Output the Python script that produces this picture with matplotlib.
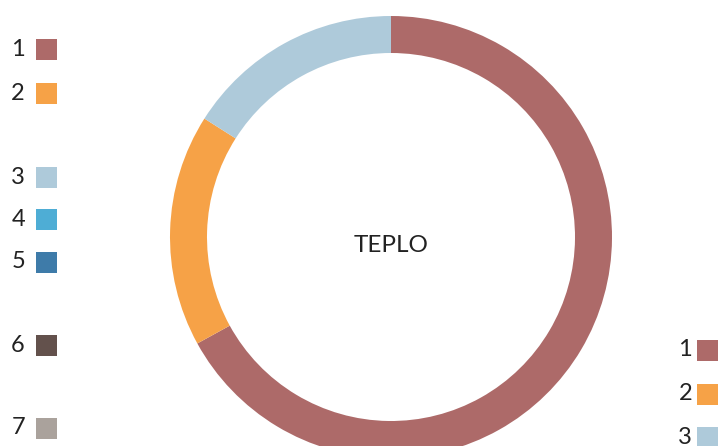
import matplotlib.pyplot as plt
from matplotlib.patches import Rectangle

# ring data (clockwise from 12 o'clock)
ring_labels = ["1", "2", "3"]
ring_values = [67, 17, 16]
ring_colors = ["#AD6A69", "#F6A247", "#AECADA"]

# left key: seven entries, right key: three entries
left_labels = ["1", "2", "3", "4", "5", "6", "7"]
left_colors = ["#AD6A69", "#F6A247", "#AECADA", "#4EADD5", "#3E7BA9", "#63514C", "#AAA29C"]
left_rows = [49, 93, 177, 219, 262, 345, 428]

right_labels = ["1", "2", "3"]
right_colors = ["#AD6A69", "#F6A247", "#AECADA"]
right_rows = [350, 394, 437]

W, H = 724, 446
plt.rcParams["font.family"] = ["Lato", "DejaVu Sans"]

fig = plt.figure(figsize=(W / 100, H / 100), dpi=100)
ax = fig.add_axes([0, 0, 1, 1])

cx, cy, r = 391, H - 237, 221
ax.pie(ring_values, colors=ring_colors, startangle=90, counterclock=False,
       center=(cx, cy), radius=r, frame=True,
       wedgeprops=dict(width=37, linewidth=0))
ax.set_xlim(0, W)
ax.set_ylim(0, H)
ax.set_aspect("equal")
ax.axis("off")

ax.text(cx, H - 245, "TEPLO", ha="center", va="center",
        fontsize=17.5, color="#222222")


def draw_key(labels, colors, rows, text_x, box_x, size=21):
    for lab, col, y in zip(labels, colors, rows):
        yy = H - y
        ax.add_patch(Rectangle((box_x, yy - size / 2), size, size,
                               facecolor=col, edgecolor="none"))
        ax.text(text_x, yy, lab, ha="right", va="center",
                fontsize=17, color="#222222")


draw_key(left_labels, left_colors, left_rows, 25, 36)
draw_key(right_labels, right_colors, right_rows, 692, 697)

fig.savefig("out.png", dpi=100)
